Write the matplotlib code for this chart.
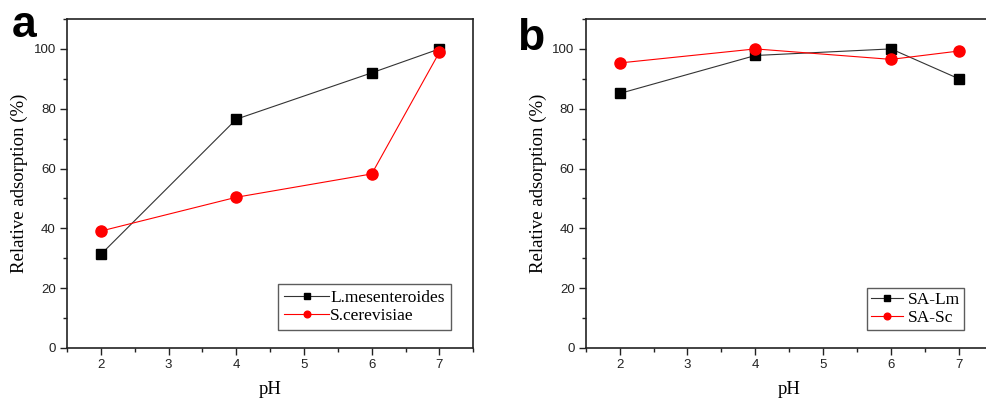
import matplotlib
matplotlib.use("Agg")
import matplotlib.pyplot as plt
from matplotlib.ticker import MultipleLocator

ph = [2, 4, 6, 7]

# panel a
lm_a = [31.3, 76.5, 92.0, 100.0]
sc_a = [39.1, 50.4, 58.2, 98.9]
# panel b
lm_b = [85.1, 97.8, 100.0, 90.0]
sc_b = [95.3, 100.0, 96.5, 99.3]

labels_a = ["L.mesenteroides", "S.cerevisiae"]
labels_b = ["SA-Lm", "SA-Sc"]

serif = "Liberation Serif"
sans = "Liberation Sans"

fig = plt.figure(figsize=(9.86, 4.0), dpi=100)
ax1 = fig.add_axes([0.068, 0.13, 0.412, 0.8225])
ax2 = fig.add_axes([0.594, 0.13, 0.413, 0.8225])


def style_axes(ax):
    ax.set_xlim(1.5, 7.5)
    ax.set_ylim(0, 110)
    ax.set_xticks([2, 3, 4, 5, 6, 7])
    ax.xaxis.set_minor_locator(MultipleLocator(0.5))
    ax.set_yticks([0, 20, 40, 60, 80, 100])
    ax.yaxis.set_minor_locator(MultipleLocator(10))
    ax.tick_params(which="both", direction="out", top=False, right=False,
                   width=1.0, colors="#222222")
    ax.tick_params(which="major", length=5, labelsize=9.5, pad=3)
    ax.tick_params(which="minor", length=3)
    for lab in ax.get_xticklabels() + ax.get_yticklabels():
        lab.set_fontfamily(sans)
    for s in ax.spines.values():
        s.set_linewidth(1.2)
        s.set_color("#222222")
    ax.set_xlabel("pH", fontfamily=serif, fontsize=13.5, labelpad=7)
    ax.set_ylabel("Relative adsorption (%)", fontfamily=serif, fontsize=13.5,
                  labelpad=4)


def draw(ax, lm, sc, labels, anchor, hl, bp, htp):
    ax.plot(ph, lm, color="#333333", lw=0.8, marker="s", ms=7.5,
            mfc="black", mec="black", label=labels[0])
    ax.plot(ph, sc, color="red", lw=0.8, marker="o", ms=8,
            mfc="red", mec="red", label=labels[1])
    style_axes(ax)
    leg = ax.legend(loc="lower right", bbox_to_anchor=anchor,
                    prop={"family": serif, "size": 12.5}, markerscale=0.6,
                    fancybox=False, frameon=True, handlelength=hl,
                    handletextpad=htp, borderpad=bp, labelspacing=0.1,
                    borderaxespad=0)
    leg.get_frame().set_edgecolor("#333333")
    leg.get_frame().set_linewidth(1.0)


draw(ax1, lm_a, sc_a, labels_a, (0.944, 0.054), 2.6, 0.35, 0.05)
draw(ax2, lm_b, sc_b, labels_b, (0.93, 0.054), 1.8, 0.25, 0.3)

fig.text(0.012, 0.9075, "a", fontsize=32, fontweight="bold", fontfamily=sans)
fig.text(0.524, 0.875, "b", fontsize=32, fontweight="bold", fontfamily=sans)

fig.savefig("out.png", dpi=100)
